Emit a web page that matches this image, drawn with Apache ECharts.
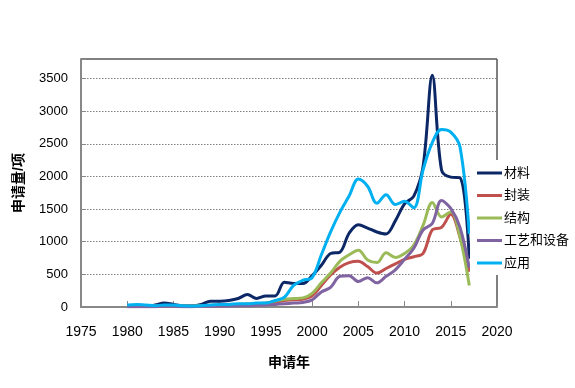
<!DOCTYPE html>
<html><head><meta charset="utf-8">
<script src="https://cdn.jsdelivr.net/npm/echarts@6/dist/echarts.min.js"></script>
<style>html,body{margin:0;padding:0;background:#fff}#c{width:575px;height:388px}</style>
</head><body><div id="c"></div>
<script>
var years = [1980,1981,1982,1983,1984,1985,1986,1987,1988,1989,1990,1991,1992,1993,1994,1995,1996,1997,1998,1999,2000,2001,2002,2003,2004,2005,2006,2007,2008,2009,2010,2011,2012,2013,2014,2015,2016,2017];
var seriesNames = ['材料','封装','结构','工艺和设备','应用'];
var cailiao = [20,15,10,30,60,40,20,20,40,90,90,100,130,190,130,170,170,380,360,360,480,640,820,840,1130,1260,1210,1150,1120,1320,1580,1700,2150,3550,2100,1990,1980,740];
var fengzhuang = [10,15,10,10,15,15,10,10,15,20,20,25,30,30,40,50,70,100,110,120,170,330,490,610,680,700,620,520,590,660,730,770,820,1180,1220,1420,1070,540];
var jiegou = [10,15,10,15,20,20,15,15,20,25,30,35,40,45,50,60,90,120,130,140,210,370,520,700,800,870,720,680,830,760,820,950,1250,1600,1380,1460,1070,330];
var gongyi = [5,5,5,5,10,10,5,5,10,10,15,15,20,20,25,30,40,50,60,70,110,230,300,470,480,390,450,370,470,570,730,900,1180,1280,1630,1510,1220,600];
var yingyong = [30,40,30,20,30,30,20,15,20,30,40,40,50,50,60,60,100,150,330,410,450,800,1150,1450,1700,1960,1850,1590,1720,1570,1620,1520,2100,2520,2720,2680,2450,1120];
var xTicks = {min:1975, max:2020, step:5};
var yTicks = {min:0, max:3800, step:500};

var values = [cailiao, fengzhuang, jiegou, gongyi, yingyong];
var colors = ['#0c2766','#c0504d','#9bbb59','#8064a2','#00b0f0'];
var font = "'Liberation Sans','Noto Sans CJK SC',sans-serif";
var chart = echarts.init(document.getElementById('c'), null, {renderer:'canvas'});
chart.setOption({
  animation:false,
  textStyle:{fontFamily:font},
  grid:{left:81, top:59, right:78, bottom:81, show:true, borderColor:'#000', borderWidth:1, backgroundColor:'transparent'},
  legend:{
    orient:'vertical', left:470, top:160, backgroundColor:'#fff',
    padding:[5,20,4,7], itemGap:6.5, itemWidth:25, itemHeight:3, icon:'rect',
    textStyle:{fontSize:13, color:'#000', lineHeight:16, fontFamily:font, padding:[0,0,0,-3]},
    data:seriesNames
  },
  xAxis:{
    type:'value', min:xTicks.min, max:xTicks.max, interval:xTicks.step,
    name:'申请年', nameLocation:'middle', nameGap:49,
    nameTextStyle:{fontSize:14, fontWeight:'bold', color:'#000'},
    axisLine:{show:true, lineStyle:{color:'#888', width:2}},
    axisTick:{show:true, inside:true, length:6, lineStyle:{color:'#888', width:1}},
    axisLabel:{fontSize:14, color:'#000', margin:18, formatter:function(v){return String(v);}},
    splitLine:{show:false}
  },
  yAxis:{
    type:'value', min:yTicks.min, max:yTicks.max, interval:yTicks.step,
    name:'申请量/项', nameLocation:'middle', nameGap:55,
    nameTextStyle:{fontSize:14, fontWeight:'bold', color:'#000'},
    axisLine:{show:true, lineStyle:{color:'#888', width:2}},
    axisTick:{show:true, inside:true, length:5, lineStyle:{color:'#888', width:1}},
    axisLabel:{fontSize:13, color:'#000', margin:13, formatter:function(v){return v % yTicks.step === 0 ? String(v) : '';}},
    splitLine:{show:true, lineStyle:{color:'#808080', type:[1.5,1.5], width:1}}
  },
  series: seriesNames.map(function(n,i){
    return {
      name:n, type:'line', smooth:0.35, showSymbol:false, symbol:'none',
      lineStyle:{width:3, color:colors[i]}, itemStyle:{color:colors[i]},
      data: years.map(function(y,j){return [y, values[i][j]];})
    };
  })
});
</script></body></html>
